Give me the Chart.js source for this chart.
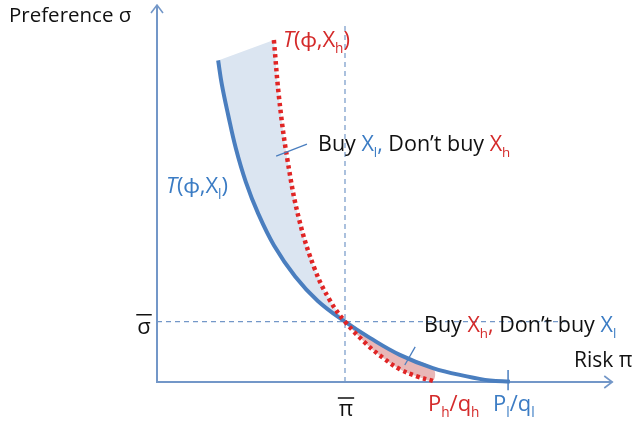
<!DOCTYPE html>
<html>
<head>
<meta charset="utf-8">
<script src="https://cdn.jsdelivr.net/npm/chart.js@4/dist/chart.umd.min.js"></script>
<style>
  html, body { margin: 0; padding: 0; background: #fff; }
  canvas { display: block; }
</style>
</head>
<body>
<canvas id="chart" width="638" height="423"></canvas>
<script>
// curve T(phi, X_l) - blue solid (risk pi, preference sigma)
const blueX = [1.35, 1.43, 1.57, 1.74, 1.96, 2.23, 2.58, 3.05, 3.55, 4.15, 4.70, 5.36, 6.09, 6.84, 7.35, 7.79];
const blueY = [8.53, 7.90, 7.09, 6.20, 5.31, 4.48, 3.63, 2.80, 2.15, 1.60, 1.17, 0.72, 0.37, 0.15, 0.04, 0.01];
// curve T(phi, X_h) - red dotted
const redX = [2.58, 2.70, 2.88, 3.14, 3.49, 3.81, 4.15, 4.64, 4.99, 5.36, 5.74, 6.09];
const redY = [9.07, 7.48, 5.89, 4.30, 2.97, 2.18, 1.60, 0.99, 0.64, 0.34, 0.15, 0.03];

// where the two curves cross (pi bar, sigma bar)
const piBar = 4.15;
const sigmaBar = 1.6;
const blueCross = 9;     // index of the crossing in blue arrays
const redCross = 6;      // index of the crossing in red arrays
const blueShadeEnd = 12; // blue point above the red curve's end
const plqlX = 7.75;      // P_l / q_l tick on the risk axis

const BLUE = "#4a7ebf";
const RED = "#e02525";
const AXIS = "#7397c8";

const pts = (xs, ys) => xs.map((x, i) => ({ x: x, y: ys[i] }));
const blue = pts(blueX, blueY);
const red = pts(redX, redY);

// shaded areas between the curves
const shadeUpper = blue.slice(0, blueCross + 1).concat(red.slice(0, redCross + 1).reverse());
const shadeLower = blue.slice(blueCross, blueShadeEnd + 1).concat(red.slice(redCross).reverse());

function lineSet(data, color, width, extra) {
  return Object.assign({
    data: data, showLine: true, borderColor: color, borderWidth: width,
    pointRadius: 0, fill: false, tension: 0, clip: false
  }, extra || {});
}

// text drawn as runs: [text, color, flag]  flag: "sub" or "it"
function drawRich(ctx, runs, x, y, size, align) {
  const font = (s, it) => (it ? "italic " : "") + s + "px 'Open Sans', Lato, sans-serif";
  let total = 0;
  runs.forEach(r => {
    ctx.font = font(r[2] === "sub" ? size * 0.62 : size, r[2] === "it");
    total += ctx.measureText(r[0]).width;
  });
  let cx = align === "center" ? x - total / 2 : x;
  ctx.textBaseline = "middle";
  ctx.textAlign = "left";
  runs.forEach(r => {
    const sub = r[2] === "sub";
    ctx.font = font(sub ? size * 0.62 : size, r[2] === "it");
    ctx.fillStyle = r[1];
    ctx.fillText(r[0], cx, sub ? y + size * 0.36 : y);
    cx += ctx.measureText(r[0]).width;
  });
  return total;
}

const overlay = {
  id: "overlay",
  beforeDatasetsDraw(chart) {
    const ctx = chart.ctx;
    const xs = chart.scales.x, ys = chart.scales.y;
    const ox = xs.getPixelForValue(0), oy = ys.getPixelForValue(0);
    const xEnd = xs.getPixelForValue(10.05), yEnd = ys.getPixelForValue(10);
    ctx.save();
    ctx.strokeStyle = AXIS;
    ctx.lineWidth = 2;
    ctx.beginPath();
    ctx.moveTo(ox, yEnd); ctx.lineTo(ox, oy); ctx.lineTo(xEnd, oy);
    ctx.stroke();
    ctx.lineWidth = 1.6;
    ctx.beginPath();
    ctx.moveTo(ox - 6, yEnd + 8); ctx.lineTo(ox, yEnd); ctx.lineTo(ox + 6, yEnd + 8);
    ctx.moveTo(xEnd - 8, oy - 6); ctx.lineTo(xEnd, oy); ctx.lineTo(xEnd - 8, oy + 6);
    ctx.stroke();
    ctx.restore();
  },
  afterDraw(chart) {
    const ctx = chart.ctx;
    const xs = chart.scales.x, ys = chart.scales.y;
    const K = "#111111", TB = "#3b7cc4", TR = "#d42a2a";
    ctx.save();
    drawRich(ctx, [["Preference σ", K]], 9, 16, 20.5);
    drawRich(ctx, [["T", TR, "it"], ["(ϕ,X", TR], ["h", TR, "sub"], [")", TR]], 283, 41, 22);
    drawRich(ctx, [["T", TB, "it"], ["(ϕ,X", TB], ["l", TB, "sub"], [")", TB]], 166, 187, 22);
    drawRich(ctx, [["Buy ", K], ["X", TB], ["l", TB, "sub"], [",", TB], [" Don’t buy ", K], ["X", TR], ["h", TR, "sub"]], 318, 145, 21.5);
    drawRich(ctx, [["Buy ", K], ["X", TR], ["h", TR, "sub"], [",", TR], [" Don’t buy ", K], ["X", TB], ["l", TB, "sub"]], 424, 326, 21.5);
    drawRich(ctx, [["Risk π", K]], 574, 361, 21);

    // sigma bar and pi bar
    const sx = 144, sy = ys.getPixelForValue(sigmaBar) + 6;
    const w1 = drawRich(ctx, [["σ", K]], sx, sy, 22, "center");
    const px = xs.getPixelForValue(piBar) + 1, py = 410;
    const w2 = drawRich(ctx, [["π", K]], px, py, 22, "center");
    ctx.strokeStyle = K;
    ctx.lineWidth = 1.5;
    ctx.beginPath();
    ctx.moveTo(sx - w1 / 2 - 1, sy - 13); ctx.lineTo(sx + w1 / 2 + 1, sy - 13);
    ctx.moveTo(px - w2 / 2 - 1, py - 12); ctx.lineTo(px + w2 / 2 + 1, py - 12);
    ctx.stroke();

    drawRich(ctx, [["P", TR], ["h", TR, "sub"], ["/q", TR], ["h", TR, "sub"]], 428, 405, 22);
    drawRich(ctx, [["P", TB], ["l", TB, "sub"], ["/q", TB], ["l", TB, "sub"]], 493, 405, 22);
    ctx.restore();
  }
};

new Chart(document.getElementById("chart"), {
  type: "scatter",
  data: {
    datasets: [
      lineSet([{ x: 5.70, y: 0.93 }, { x: 5.47, y: 0.45 }], BLUE, 1.3, { order: 1 }),
      lineSet([{ x: 3.31, y: 6.31 }, { x: 2.63, y: 5.99 }], BLUE, 1.3, { order: 1 }),
      lineSet(red, RED, 4.5, { order: 2, tension: 0.4, borderDash: [3.5, 3.5] }),
      lineSet(blue, BLUE, 4, { order: 3, tension: 0.4 }),
      lineSet([{ x: plqlX, y: 0.32 }, { x: plqlX, y: -0.22 }], BLUE, 1.5, { order: 4 }),
      lineSet([{ x: piBar, y: 0 }, { x: piBar, y: 9.47 }], AXIS, 1.2, { order: 5, borderDash: [5, 4] }),
      lineSet([{ x: 0, y: sigmaBar }, { x: 9.05, y: sigmaBar }], AXIS, 1.2, { order: 5, borderDash: [5, 4] }),
      lineSet(shadeLower, "rgba(0,0,0,0)", 0, { order: 6, tension: 0.4, fill: "shape", backgroundColor: "#e8b7b7" }),
      lineSet(shadeUpper, "rgba(0,0,0,0)", 0, { order: 6, tension: 0.4, fill: "shape", backgroundColor: "#dbe5f1" })
    ]
  },
  options: {
    responsive: false,
    animation: false,
    devicePixelRatio: 1,
    layout: { padding: { left: 157, right: 28, top: 5, bottom: 41 } },
    scales: {
      x: { type: "linear", min: 0, max: 10, display: false },
      y: { type: "linear", min: 0, max: 10, display: false }
    },
    plugins: { legend: { display: false }, tooltip: { enabled: false } }
  },
  plugins: [overlay]
});
</script>
</body>
</html>
